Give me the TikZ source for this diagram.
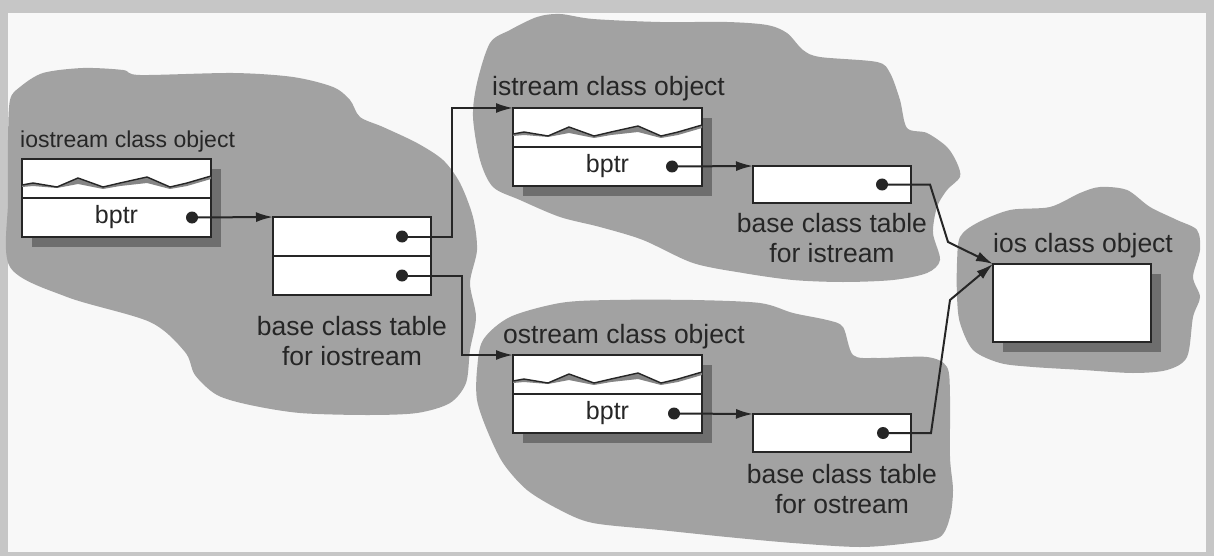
\documentclass[tikz,border=0pt]{standalone}
\usepackage{fontspec}
\setmainfont{Liberation Sans}
\usetikzlibrary{positioning}
\usetikzlibrary{arrows.meta}
\usetikzlibrary{calc}
\usetikzlibrary{shadows}

\definecolor{framegray}{HTML}{C6C6C6}
\definecolor{paper}{HTML}{F8F8F8}
\definecolor{blobgray}{HTML}{A2A2A2}
\definecolor{inkgray}{HTML}{262626}
\definecolor{shadegray}{HTML}{6E6E6E}
\definecolor{wavegray}{HTML}{858585}

\begin{document}
\begin{tikzpicture}[
    x=1pt, y=1pt,
    blob/.style={fill=blobgray, draw=none},
    row/.style={rectangle, draw=inkgray, fill=white, line width=1.7pt, inner sep=0pt, outer sep=0pt, minimum width=189pt, minimum height=39pt, font=\fontsize{25}{28}\selectfont, text=inkgray},
    shadowed/.style={drop shadow={shadow xshift=10pt, shadow yshift=-10pt, fill=shadegray, opacity=1}},
    cell/.style={rectangle, draw=inkgray, fill=white, line width=1.7pt, inner sep=0pt, outer sep=0pt, minimum width=158pt, minimum height=38pt},
    lbl/.style={font=\fontsize{26.5}{30}\selectfont, text=inkgray, inner sep=0pt},
    dot/.style={circle, fill=inkgray, inner sep=0pt, minimum size=12pt},
    arr/.style={-{Latex[length=17pt,width=10pt]}, draw=inkgray, line width=2pt},
    wave/.pic={
        \fill[wavegray] (0,-26) -- (11,-24) -- (35,-28) -- (56,-19) -- (81,-28) -- (98,-24) -- (125,-18) -- (148,-28) -- (165,-24) -- (189,-17)
            -- (189,-20) -- (165,-27) -- (148,-30) -- (125,-24) -- (98,-27) -- (81,-30) -- (56,-25) -- (35,-29) -- (11,-27) -- (0,-28) -- cycle;
        \draw[inkgray, line width=1.4pt] (0,-26) -- (11,-24) -- (35,-28) -- (56,-19) -- (81,-28) -- (98,-24) -- (125,-18) -- (148,-28) -- (165,-24) -- (189,-17);
    },
]
    % frame and paper
    \fill[framegray] (0,0) rectangle (1214,-556);
    \fill[paper] (8,-13) rectangle (1206,-552);

    % blobs
    \fill[blob] plot[smooth cycle, tension=0.5] coordinates {(10,-100) (20,-87) (43,-73) (83,-68) (123,-70) (140,-75) (233,-73) (293,-77) (333,-87) (350,-100) (360,-117) (383,-127) (417,-143) (443,-160) (460,-183) (473,-217) (477,-250) (470,-283) (476,-317) (470,-350) (466,-383) (450,-403) (417,-413) (367,-415) (300,-413) (250,-405) (217,-395) (195,-375) (185,-352) (150,-322) (67,-297) (10,-267) (8,-200) (8,-140)};
    \fill[blob] plot[smooth cycle, tension=0.5] coordinates {(477,-83) (490,-43) (510,-30) (537,-17) (560,-14) (593,-19) (660,-22) (727,-22) (767,-25) (787,-33) (803,-50) (820,-57) (877,-62) (890,-73) (900,-100) (907,-128) (927,-133) (947,-147) (957,-163) (960,-177) (947,-190) (937,-207) (933,-233) (940,-260) (927,-273) (893,-280) (843,-282) (793,-280) (743,-273) (693,-263) (643,-240) (600,-227) (560,-217) (520,-200) (493,-187) (480,-160) (473,-117)};
    \fill[blob] plot[smooth cycle, tension=0.5] coordinates {(477,-370) (483,-340) (510,-317) (560,-303) (610,-300) (693,-300) (760,-303) (793,-313) (827,-320) (843,-327) (853,-355) (877,-358) (927,-357) (947,-367) (950,-397) (950,-457) (953,-490) (950,-517) (940,-537) (910,-543) (860,-547) (793,-543) (727,-537) (660,-530) (593,-523) (560,-510) (527,-490) (503,-463) (487,-430) (477,-400)};
    \fill[blob] plot[smooth cycle, tension=0.5] coordinates {(960,-237) (977,-223) (1010,-210) (1050,-207) (1080,-193) (1100,-187) (1127,-190) (1150,-207) (1177,-220) (1197,-230) (1200,-250) (1193,-277) (1200,-297) (1193,-317) (1187,-357) (1167,-370) (1133,-373) (1083,-370) (1033,-367) (1000,-363) (973,-350) (960,-323) (957,-297) (957,-263)};

    % iostream
    \node[row, shadowed, anchor=north west] (ioW) at (22,-159) {};
    \node[row, shadowed] (ioB) [below=0pt of ioW] {bptr};
    \pic at (ioW.north west) {wave};
    \node[lbl, font=\fontsize{23}{26}\selectfont, anchor=base west] (ioL) at ($(ioW.north west)+(-2,11)$) {iostream class object};
    \node[dot] (ioD) at ($(ioB.east)+(-19,0)$) {};

    \node[cell, minimum height=39pt, anchor=north west] (ioT1) at (273,-217) {};
    \node[cell, minimum height=39pt] (ioT2) [below=0pt of ioT1] {};
    \node[dot] (ioD1) at ($(ioT1.east)+(-29,0)$) {};
    \node[dot] (ioD2) at ($(ioT2.east)+(-29,0)$) {};
    \node[lbl, align=center] (ioTL) [below=21pt of ioT2] {base class table\\for iostream};

    % istream
    \node[row, shadowed, anchor=north west] (isW) at (513,-108) {};
    \node[row, shadowed] (isB) [below=0pt of isW] {bptr};
    \pic at (isW.north west) {wave};
    \node[lbl, anchor=base west] (isL) at ($(isW.north west)+(-21,12)$) {istream class object};
    \node[dot] (isD) at ($(isB.east)+(-30,0)$) {};

    \node[cell, minimum height=37pt, anchor=north west] (isT) at (753,-166) {};
    \node[dot] (isTD) at ($(isT.east)+(-29,0)$) {};
    \node[lbl, align=center] (isTL) [below=10pt of isT] {base class table\\for istream};

    % ostream
    \node[row, shadowed, anchor=north west] (osW) at (513,-355) {};
    \node[row, shadowed] (osB) [below=0pt of osW] {bptr};
    \pic at (osW.north west) {wave};
    \node[lbl, anchor=base west] (osL) at ($(osW.north west)+(-10,12)$) {ostream class object};
    \node[dot] (osD) at ($(osB.east)+(-28,0)$) {};

    \node[cell, anchor=north west] (osT) at (753,-414) {};
    \node[dot] (osTD) at ($(osT.east)+(-28,0)$) {};
    \node[lbl, align=center] (osTL) [below=12pt of osT, xshift=10pt] {base class table\\for ostream};

    % ios
    \node[cell, shadowed, minimum height=78pt, anchor=north west] (iosB) at (993,-264) {};
    \node[lbl, anchor=base west] (iosL) at ($(iosB.north west)+(0,12)$) {ios class object};

    % pointers
    \draw[arr] (ioD) -- (ioT1.north west);
    \draw[arr] (ioD1) -| ($(isW.north west)+(-61,0)$) -- (isW.north west);
    \draw[arr] (ioD2) -| ($(osW.north west)+(-51,0)$) -- (osW.north west);

    \draw[arr] (isD) -- (isT.north west);
    \draw[arr] (isTD) -- ($(isT.east)+(19,0)$) -- ($(iosB.north west)+(-45,22)$) -- (iosB.north west);

    \draw[arr] (osD) -- (osT.north west);
    \draw[arr] (osTD) -- ($(osT.east)+(20,0)$) -- ($(iosB.north west)+(-43,-36)$) -- (iosB.north west);
\end{tikzpicture}
\end{document}
